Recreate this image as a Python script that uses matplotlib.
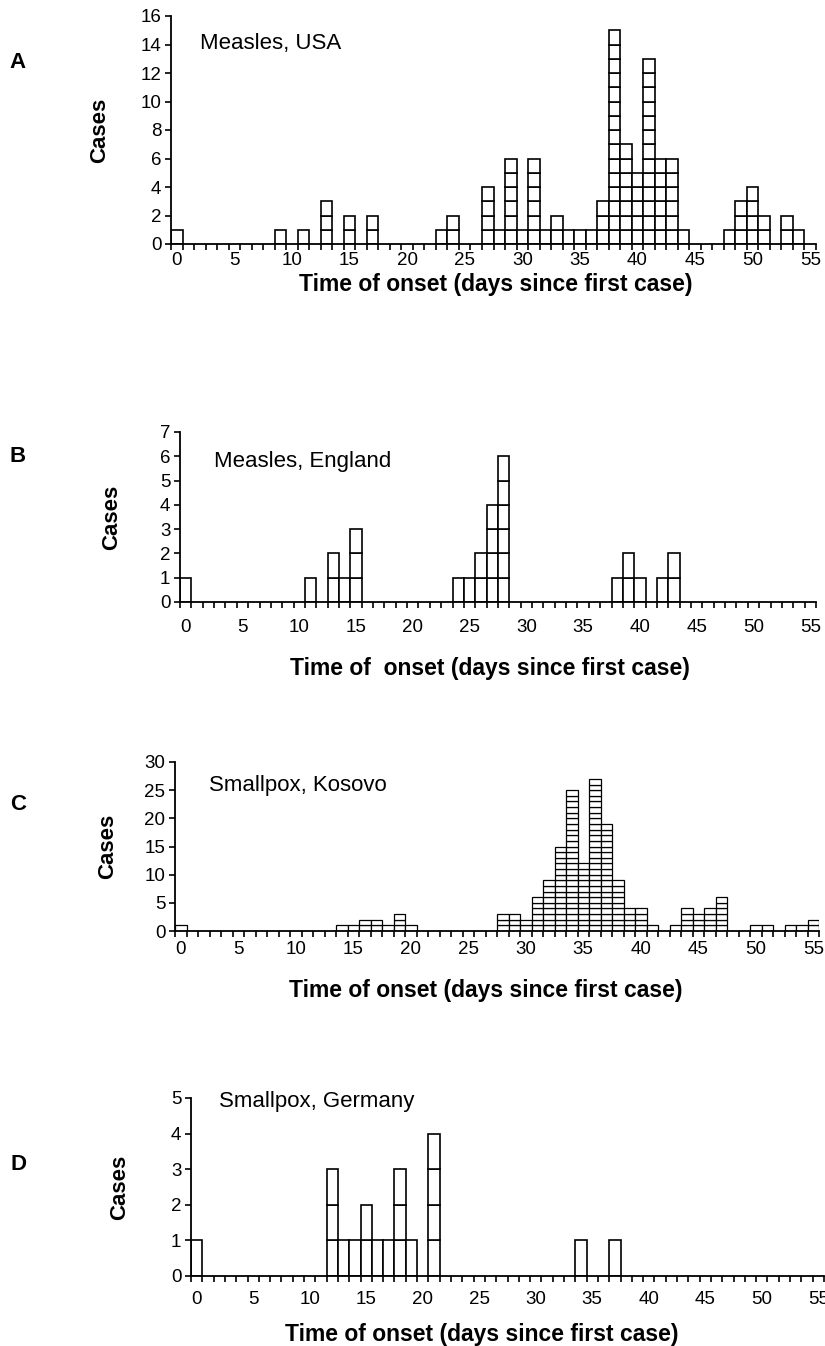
import numpy as np
import matplotlib
matplotlib.use("Agg")
import matplotlib.pyplot as plt

plt.rcParams['font.family'] = ['Liberation Sans', 'DejaVu Sans']

W, H = 825, 1346

days = np.arange(56)

usa_cases = [1, 0, 0, 0, 0, 0, 0, 0, 0, 1,
             0, 1, 0, 3, 0, 2, 0, 2, 0, 0,
             0, 0, 0, 1, 2, 0, 0, 4, 1, 6,
             1, 6, 1, 2, 1, 1, 1, 3, 15, 7,
             5, 13, 6, 6, 1, 0, 0, 0, 1, 3,
             4, 2, 0, 2, 1, 0]
england_cases = [1, 0, 0, 0, 0, 0, 0, 0, 0, 0,
                 0, 1, 0, 2, 1, 3, 0, 0, 0, 0,
                 0, 0, 0, 0, 1, 1, 2, 4, 6, 0,
                 0, 0, 0, 0, 0, 0, 0, 0, 1, 2,
                 1, 0, 1, 2, 0, 0, 0, 0, 0, 0,
                 0, 0, 0, 0, 0, 0]
kosovo_cases = [1, 0, 0, 0, 0, 0, 0, 0, 0, 0,
                0, 0, 0, 0, 1, 1, 2, 2, 1, 3,
                1, 0, 0, 0, 0, 0, 0, 0, 3, 3,
                2, 6, 9, 15, 25, 12, 27, 19, 9, 4,
                4, 1, 0, 1, 4, 3, 4, 6, 0, 0,
                1, 1, 0, 1, 1, 2]
germany_cases = [1, 0, 0, 0, 0, 0, 0, 0, 0, 0,
                 0, 0, 3, 1, 1, 2, 1, 1, 3, 1,
                 0, 4, 0, 0, 0, 0, 0, 0, 0, 0,
                 0, 0, 0, 0, 1, 0, 0, 1, 0, 0,
                 0, 0, 0, 0, 0, 0, 0, 0, 0, 0,
                 0, 0, 0, 0, 0, 0]

panels = [
    # letter, label, cases, ymax, ystep, axes box (left, right, top, bottom) px
    ("A", "Measles, USA", usa_cases, 16, 2, (171, 816, 16, 244),
     (200, 43), (18, 62), (100, 130), (496, 284), "Time of onset (days since first case)", 1.2, 6),
    ("B", "Measles, England", england_cases, 7, 1, (180, 816, 432, 602),
     (214, 461), (18, 456), (112, 517), (490, 668), "Time of  onset (days since first case)", 1.2, 12),
    ("C", "Smallpox, Kosovo", kosovo_cases, 30, 5, (175, 819, 762, 931),
     (209, 786), (18, 805), (108, 846), (486, 990), "Time of onset (days since first case)", 0.9, 7),
    ("D", "Smallpox, Germany", germany_cases, 5, 1, (191, 824, 1098, 1276),
     (219, 1102), (18, 1165), (120, 1187), (482, 1334), "Time of onset (days since first case)", 1.2, 11),
]

fig = plt.figure(figsize=(W / 100, H / 100), dpi=100)

for (letter, label, cases, ymax, ystep, box, txt_xy, let_xy, ylab_xy,
     title_xy, title, lw, xpad) in panels:
    l, r, t, b = box
    ax = fig.add_axes([l / W, 1 - b / H, (r - l) / W, (b - t) / H])
    cases = np.array(cases)
    xs = np.repeat(days, cases)
    bottoms = np.concatenate([np.arange(c) for c in cases])
    ax.bar(xs, 1, bottom=bottoms, width=1, color="white",
           edgecolor="black", linewidth=lw)

    ax.set_xlim(-0.5, 55.5)
    ax.set_ylim(0, ymax)
    ax.set_yticks(np.arange(0, ymax + 1, ystep))
    ax.set_xticks(np.arange(0, 56, 5))
    ax.set_xticks(np.arange(-0.5, 56, 1), minor=True)
    for s in ["top", "right"]:
        ax.spines[s].set_visible(False)
    for s in ["left", "bottom"]:
        ax.spines[s].set_linewidth(1.3)
    ax.tick_params(axis="y", direction="out", length=4, width=1.2,
                   labelsize=13.5, pad=3)
    ax.tick_params(axis="x", which="major", length=0, labelsize=13.5,
                   pad=xpad)
    ax.tick_params(axis="x", which="minor", direction="out", length=4,
                   width=1.2)

    fig.text(txt_xy[0] / W, 1 - txt_xy[1] / H, label, fontsize=16,
             ha="left", va="center")
    fig.text(let_xy[0] / W, 1 - let_xy[1] / H, letter, fontsize=16,
             fontweight="bold", ha="center", va="center")
    fig.text(ylab_xy[0] / W, 1 - ylab_xy[1] / H, "Cases", fontsize=16,
             fontweight="bold", rotation=90, ha="center", va="center")
    fig.text(title_xy[0] / W, 1 - title_xy[1] / H, title, fontsize=16.5,
             fontweight="bold", ha="center", va="center")

fig.savefig("out.png", dpi=100)
